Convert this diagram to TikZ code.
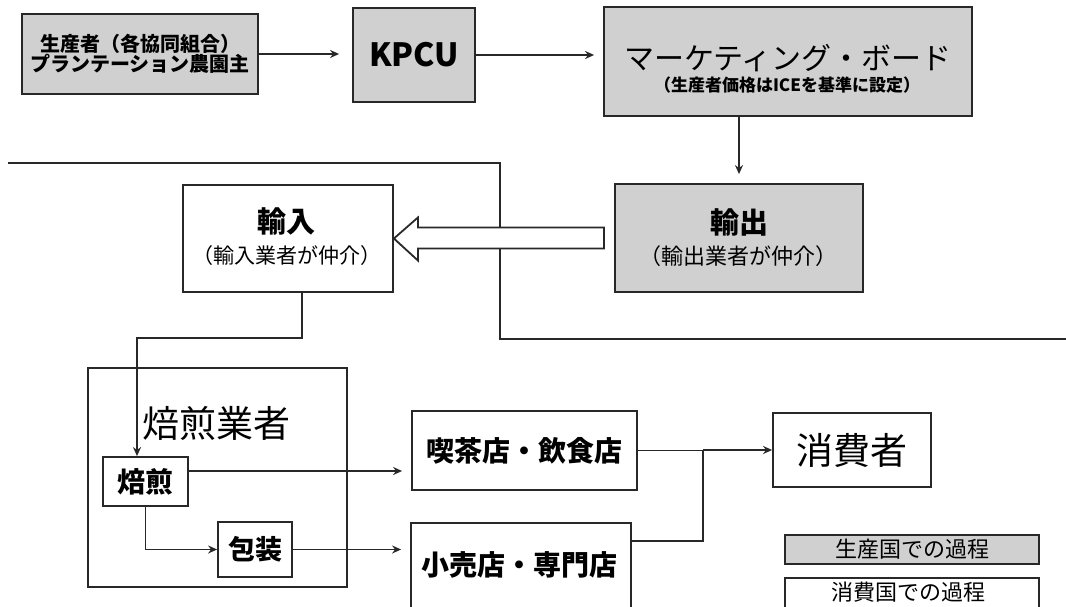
\documentclass[tikz,border=0pt]{standalone}
\usepackage{fontspec}
\setmainfont{Noto Sans CJK JP}
\usetikzlibrary{arrows.meta,calc}
\definecolor{boxgray}{RGB}{208,208,208}
\definecolor{linec}{RGB}{40,40,40}
\newcommand{\fz}[1]{\fontsize{#1}{#1}\selectfont}
\begin{document}
\begin{tikzpicture}[x=1pt,y=-1pt,
  box/.style={draw=linec, line width=1.8pt, inner sep=0pt, text=black},
  gbox/.style={box, fill=boxgray},
  wbox/.style={box, fill=white},
  txt/.style={inner sep=0pt, text=black},
  arr/.style={draw=linec, line width=1.8pt, -{Stealth[length=9pt,width=8pt]}},
  plain/.style={draw=linec, line width=1.8pt},
  hollow/.style={draw=linec, line width=1.8pt, fill=white, line join=miter}]
\useasboundingbox (0,0) rectangle (1066,607);
\clip (0,0) rectangle (1066,607);

% separator between producing and consuming countries
\draw[plain, line width=2pt] (8,163) -- (500,163) -- (500,339) -- (1066,339);

% producing country boxes
\node[gbox, minimum width=236pt, minimum height=80pt, align=center,
      font=\bfseries\fz{20}] (prod) at (140,54)
      {生産者（各協同組合）\\プランテーション農園主};
\node[gbox, minimum width=122pt, minimum height=94pt,
      font=\bfseries\fz{32}] (kpcu) at (414,55) {KPCU};
\node[gbox, minimum width=368pt, minimum height=109pt] (mkt) at (788,61.5) {};
\node[txt, font=\fz{30}] at (788,58) {マーケティング・ボード};
\node[txt, font=\bfseries\fz{17}] at (787,85) {（生産者価格はICEを基準に設定）};
\node[gbox, minimum width=248pt, minimum height=108pt] (exp) at (739,238) {};
\node[txt, font=\bfseries\fz{29}] at (739,222) {輸出};
\node[txt, font=\fz{22}] at (738,256) {（輸出業者が仲介）};

% consuming country boxes
\node[wbox, minimum width=210pt, minimum height=107pt] (imp) at (288,238.5) {};
\node[txt, font=\bfseries\fz{29}] at (286,221) {輸入};
\node[txt, font=\fz{21}] at (287,256) {（輸入業者が仲介）};

\node[wbox, minimum width=259pt, minimum height=219pt] (roaster) at (217.5,477.5) {};
\node[txt, font=\fz{37}] at (216,423) {焙煎業者};
\node[wbox, minimum width=85pt, minimum height=49pt,
      font=\bfseries\fz{28}] (roast) at (145.5,481.5) {焙煎};
\node[wbox, minimum width=74pt, minimum height=55pt,
      font=\bfseries\fz{27}] (pack) at (255,549.5) {包装};

\node[wbox, minimum width=225pt, minimum height=79pt,
      font=\bfseries\fz{28}] (cafe) at (524.5,450.5) {喫茶店・飲食店};
\node[wbox, minimum width=220pt, minimum height=100pt] (retail) at (521,573) {};
\node[txt, font=\bfseries\fz{28}] at (519,565) {小売店・専門店};
\node[wbox, minimum width=158pt, minimum height=74pt,
      font=\fz{37}] (cons) at (852,450) {消費者};

% legend
\node[gbox, minimum width=254pt, minimum height=29pt,
      font=\fz{22}] (leg1) at (912,549.5) {生産国での過程};
\node[wbox, minimum width=254pt, minimum height=36pt] (leg2) at (912,596) {};
\node[txt, font=\fz{22}] at (908,592) {消費国での過程};

% connectors, producing country
\draw[arr, shorten >=13pt] (prod.east) -- (prod.east -| kpcu.west);
\draw[arr, shorten >=9pt] (kpcu.east) -- (kpcu.east -| mkt.west);
\draw[arr, shorten >=9pt] (mkt.south -| exp.north) -- (exp.north);

% hollow export -> import arrow
\draw[hollow] (imp.east) -- ++(24,-21) -- ++(0,10) -- ++(186,0) -- ++(0,21)
  -- ++(-186,0) -- ++(0,12) -- cycle;

% import -> roasting
\coordinate (bend) at (137,338);
\draw[arr] ([xshift=14pt]imp.south) |- (bend) -- (bend |- roast.north);

% roaster internal and outgoing
\coordinate (r1) at ([yshift=10.5pt]roast.east);
\draw[arr, shorten >=9pt] (r1) -- (r1 -| cafe.west);
\draw[arr] (roast.south) |- (pack.west);
\draw[arr, shorten >=9pt] (pack.east) -- (pack.east -| retail.west);

% to consumer
\coordinate (j) at (703,450);
\coordinate (rj) at ($(retail.north east)+(0,19)$);
\draw[plain] (cafe.east) -- (cafe.east -| j);
\draw[plain, line width=2.2pt] (rj) -| (j);
\draw[arr, line width=2.2pt] (j) -- (cons.west);
\end{tikzpicture}
\end{document}
